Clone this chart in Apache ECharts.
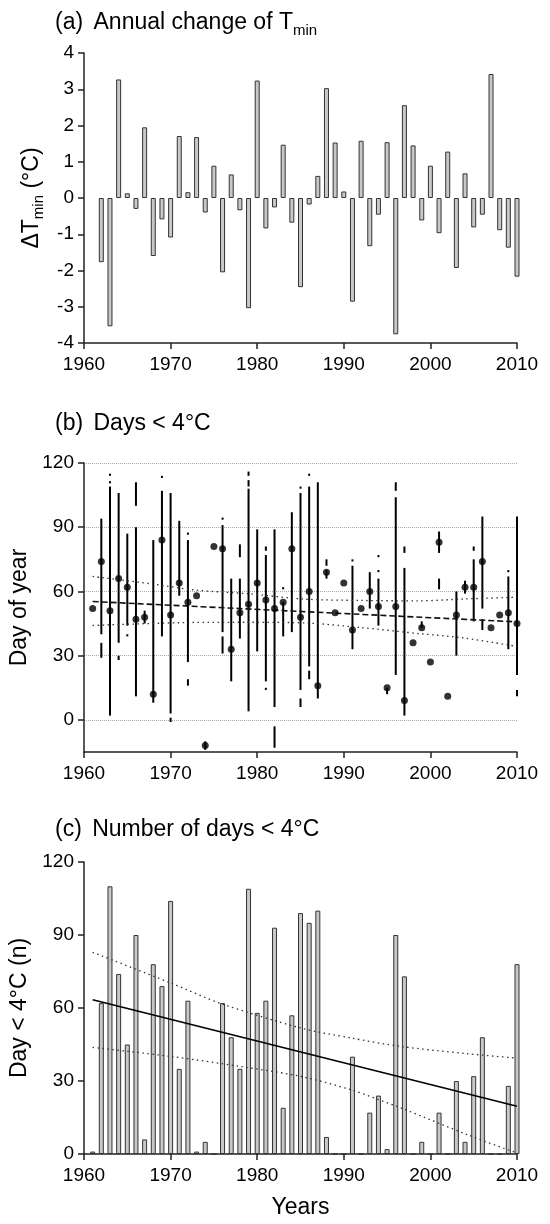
<!DOCTYPE html>
<html>
<head>
<meta charset="utf-8">
<script src="https://cdn.jsdelivr.net/npm/echarts@6/dist/echarts.min.js"></script>
<style>
  html, body { margin: 0; padding: 0; background: #fff; }
  #chart { width: 550px; height: 1224px; }
</style>
</head>
<body>
<div id="chart"></div>
<script>
// years shared by all three panels
const years = [
  1961, 1962, 1963, 1964, 1965, 1966, 1967, 1968, 1969, 1970,
  1971, 1972, 1973, 1974, 1975, 1976, 1977, 1978, 1979, 1980,
  1981, 1982, 1983, 1984, 1985, 1986, 1987, 1988, 1989, 1990,
  1991, 1992, 1993, 1994, 1995, 1996, 1997, 1998, 1999, 2000,
  2001, 2002, 2003, 2004, 2005, 2006, 2007, 2008, 2009, 2010
];

// (a) annual change of Tmin (°C)
const tminChange = [
  null, -1.77, -3.54, 3.27, 0.13, -0.30, 1.95, -1.60, -0.59, -1.09,
  1.71, 0.16, 1.68, -0.40, 0.89, -2.05, 0.65, -0.34, -3.04, 3.24,
  -0.84, -0.26, 1.47, -0.68, -2.46, -0.18, 0.61, 3.03, 1.53, 0.18,
  -2.86, 1.58, -1.33, -0.46, 1.54, -3.76, 2.56, 1.45, -0.62, 0.89,
  -0.97, 1.28, -1.93, 0.68, -0.81, -0.46, 3.42, -0.89, -1.37, -2.17
];

// (b) day of year < 4°C : dot + range
const dayMedian = [
  52, 74, 51, 66, 62, 47, 48, 12, 84, 49,
  64, 55, 58, -12, 81, 80, 33, 50, 54, 64,
  56, 52, 55, 80, 48, 60, 16, 69, 50, 64,
  42, 52, 60, 53, 15, 53, 9, 36, 43, 27,
  83, 11, 49, 62, 62, 74, 43, 49, 50, 45
];
const dayLow = [
  null, 40, 2, 36, 44, 11, 45, 8, 39, 3,
  58, 27, null, -14, null, 41, 18, 38, 4, 32,
  18, 6, 39, 41, 14, 25, 10, 66, null, null,
  33, null, 52, 44, 12, 21, 2, null, 43, null,
  78, null, 30, 59, 46, 52, null, null, 33, 21
];
const dayHigh = [
  null, 94, 109, 106, 87, 90, 51, 84, 107, 106,
  93, 84, null, -10, null, 91, 66, 66, 108, 89,
  77, 89, 55, 97, 106, 109, 111, 70, null, null,
  72, null, 69, 66, 15, 104, 71, null, 46, null,
  88, null, 60, 65, 75, 95, null, null, 67, 95
];
// short separate pieces [year, from, to]
const daySegments = [
  [1962, 29, 36], [1963, 110.5, 111.5], [1963, 114, 115], [1964, 28, 30],
  [1965, 39, 40], [1966, 100, 111], [1969, 113, 114], [1970, -1, 1],
  [1972, 86.5, 87.5], [1972, 16, 19], [1976, 93.5, 94.5], [1976, 31, 39],
  [1978, 76, 82], [1979, 109, 112], [1979, 114, 116], [1981, 79, 81],
  [1981, 14, 15], [1982, -13, -3], [1983, 61, 62], [1985, 108, 109],
  [1985, 6, 10], [1986, 114, 115], [1986, 19, 23], [1988, 72, 75],
  [1991, 74, 75], [1994, 76, 77], [1994, 69, 70], [1996, 107, 111],
  [1997, 78, 81], [2001, 61, 66], [2005, 79, 81], [2006, 42, 47],
  [2009, 69, 70], [2010, 11, 14]
];
const dayTrendYears = [1961, 2010];
const dayTrend = [55.3, 45.8];
const dayUpperYears = [1961, 1967.7, 1973, 1979, 1985.5, 1992, 1998.5, 2004, 2010];
const dayUpper = [67.0, 63.6, 60.6, 58.9, 56.4, 55.8, 55.6, 56.5, 57.3];
const dayLowerYears = [1961, 1972.5, 1979, 1986, 1992, 1999, 2004, 2010];
const dayLower = [44.1, 45.5, 45.6, 45.2, 43.1, 40.2, 38.2, 34.3];
const dayTicks = [0, 30, 60, 90, 120];

// (c) number of days < 4°C
const coldDays = [
  1, 62, 110, 74, 45, 90, 6, 78, 69, 104,
  35, 63, 1, 5, 0, 62, 48, 35, 109, 58,
  63, 93, 19, 57, 99, 95, 100, 7, 0, 0,
  40, 0, 17, 24, 2, 90, 73, 0, 5, 0,
  17, 0, 30, 5, 32, 48, 0, 0, 28, 78
];
const countTrendYears = [1961, 2010];
const countTrend = [63.4, 19.6];
const countUpperYears = [1961, 1970, 1976, 1985, 1990.8, 1996.6, 2004.3, 2010];
const countUpper = [82.9, 70.3, 61.6, 51.8, 47.7, 44.2, 41.2, 39.4];
const countLowerYears = [1961, 1970, 1978, 1985, 1990.8, 1996.6, 2004.3, 2010];
const countLower = [43.8, 40.1, 36.0, 31.9, 26.4, 18.9, 7.9, 0.4];

const font = 'Liberation Sans, Arial, Helvetica, sans-serif';
const axisColor = '#222';
const pair = (xs, ys) => xs.map((x, i) => [x, ys[i]]);

const chart = echarts.init(document.getElementById('chart'));

function xAxisFor(gridIndex, name) {
  return {
    type: 'value', gridIndex: gridIndex, min: 1960, max: 2010, interval: 10,
    name: name, nameLocation: 'middle', nameGap: 42,
    nameTextStyle: { fontSize: 23, color: '#000', fontFamily: font },
    axisLine: { onZero: false, lineStyle: { color: axisColor, width: 1.5 } },
    axisTick: { length: 6, lineStyle: { color: axisColor, width: 1.5 } },
    axisLabel: { fontSize: 19, color: '#000', fontFamily: font, margin: 12, formatter: v => String(v) },
    splitLine: { show: false }
  };
}

function yAxisFor(gridIndex, extra) {
  return Object.assign({
    type: 'value', gridIndex: gridIndex,
    nameLocation: 'middle',
    nameTextStyle: {
      fontSize: 23, color: '#000', fontFamily: font,
      rich: { sub: { fontSize: 15, lineHeight: 30, verticalAlign: 'bottom', fontFamily: font, color: '#000' } }
    },
    axisLine: { show: true, onZero: false, lineStyle: { color: axisColor, width: 1.5 } },
    axisTick: { show: true, length: 6, lineStyle: { color: axisColor, width: 1.5 } },
    axisLabel: { fontSize: 19, color: '#000', fontFamily: font, margin: 10 },
    splitLine: { show: false }
  }, extra);
}

function panelTitle(top, text) {
  return {
    left: 55, top: top, padding: 0, text: text,
    textStyle: {
      fontSize: 23, fontWeight: 'normal', color: '#000', fontFamily: font,
      rich: {
        p: { fontSize: 23, color: '#000', fontFamily: font, padding: [0, 4, 0, 0] },
        sub: { fontSize: 15, lineHeight: 30, verticalAlign: 'bottom', color: '#000', fontFamily: font }
      }
    }
  };
}

// draws vertical pieces through the chart's own coordinate system
function rangeItem(params, api) {
  const p1 = api.coord([api.value(0), api.value(1)]);
  const p2 = api.coord([api.value(0), api.value(2)]);
  return {
    type: 'line',
    shape: { x1: p1[0], y1: p1[1], x2: p2[0], y2: p2[1] },
    style: { stroke: '#000', lineWidth: 2 }
  };
}

const rangeData = years
  .map((y, i) => [y, dayLow[i], dayHigh[i]])
  .filter(d => d[1] !== null);

const option = {
  animation: false,
  backgroundColor: '#fff',
  title: [
    panelTitle(8, '{p|(a)} Annual change of T{sub|min}'),
    panelTitle(412, '{p|(b)} Days < 4°C'),
    panelTitle(818, '{p|(c)} Number of days < 4°C')
  ],
  grid: [
    { left: 84, width: 433, top: 53, height: 290 },
    { left: 84, width: 433, top: 463, height: 289 },
    { left: 84, width: 433, top: 862, height: 292 }
  ],
  xAxis: [xAxisFor(0, ''), xAxisFor(1, ''), xAxisFor(2, 'Years')],
  yAxis: [
    yAxisFor(0, { min: -4, max: 4, interval: 1, name: 'ΔT{sub|min} (°C)', nameGap: 34 }),
    yAxisFor(1, {
      min: -15, max: 120, name: 'Day of year', nameGap: 53,
      axisTick: { show: true, length: 6, customValues: dayTicks, lineStyle: { color: axisColor, width: 1.5 } },
      axisLabel: { fontSize: 19, color: '#000', fontFamily: font, margin: 10, customValues: dayTicks },
      splitLine: { show: true, lineStyle: { color: '#aaa', type: 'dotted', width: 1 } }
    }),
    yAxisFor(2, { min: 0, max: 120, interval: 30, name: 'Day < 4°C (n)', nameGap: 53 })
  ],
  series: [
    {
      type: 'bar', xAxisIndex: 0, yAxisIndex: 0, barWidth: 5,
      itemStyle: { color: '#c8c8c8', borderColor: '#333', borderWidth: 1 },
      data: pair(years, tminChange).filter(d => d[1] !== null)
    },
    {
      type: 'custom', xAxisIndex: 1, yAxisIndex: 1, renderItem: rangeItem,
      encode: { x: 0, y: [1, 2] }, data: rangeData, z: 3
    },
    {
      type: 'custom', xAxisIndex: 1, yAxisIndex: 1, renderItem: rangeItem,
      encode: { x: 0, y: [1, 2] }, data: daySegments, z: 3
    },
    {
      type: 'scatter', xAxisIndex: 1, yAxisIndex: 1, symbolSize: 7,
      itemStyle: { color: '#000' }, z: 5,
      data: pair(years, dayMedian)
    },
    {
      type: 'line', xAxisIndex: 1, yAxisIndex: 1, showSymbol: false, z: 4,
      lineStyle: { color: '#111', width: 1.6, type: [6, 3] },
      data: pair(dayTrendYears, dayTrend)
    },
    {
      type: 'line', xAxisIndex: 1, yAxisIndex: 1, showSymbol: false, smooth: 0.3, z: 4,
      lineStyle: { color: '#333', width: 1.3, type: [1.5, 3.5] },
      data: pair(dayUpperYears, dayUpper)
    },
    {
      type: 'line', xAxisIndex: 1, yAxisIndex: 1, showSymbol: false, smooth: 0.3, z: 4,
      lineStyle: { color: '#333', width: 1.3, type: [1.5, 3.5] },
      data: pair(dayLowerYears, dayLower)
    },
    {
      type: 'bar', xAxisIndex: 2, yAxisIndex: 2, barWidth: 5,
      itemStyle: { color: '#c8c8c8', borderColor: '#333', borderWidth: 1 },
      data: pair(years, coldDays)
    },
    {
      type: 'line', xAxisIndex: 2, yAxisIndex: 2, showSymbol: false, z: 4,
      lineStyle: { color: '#000', width: 1.6 },
      data: pair(countTrendYears, countTrend)
    },
    {
      type: 'line', xAxisIndex: 2, yAxisIndex: 2, showSymbol: false, smooth: 0.3, z: 4,
      lineStyle: { color: '#333', width: 1.3, type: [1.5, 3.5] },
      data: pair(countUpperYears, countUpper)
    },
    {
      type: 'line', xAxisIndex: 2, yAxisIndex: 2, showSymbol: false, smooth: 0.3, z: 4,
      lineStyle: { color: '#333', width: 1.3, type: [1.5, 3.5] },
      data: pair(countLowerYears, countLower)
    }
  ]
};

chart.setOption(option);
window.addEventListener('resize', chart.resize);
</script>
</body>
</html>
